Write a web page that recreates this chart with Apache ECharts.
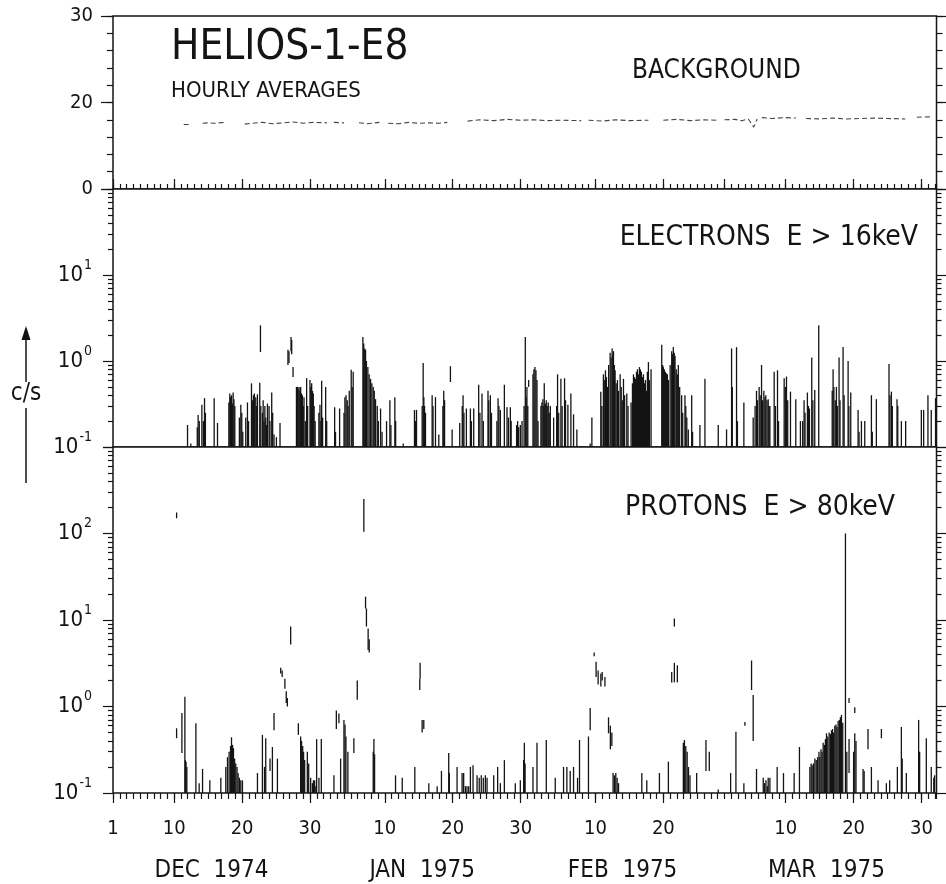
<!DOCTYPE html>
<html>
<head>
<meta charset="utf-8">
<title>HELIOS-1-E8 hourly averages</title>
<script src="https://cdn.jsdelivr.net/npm/echarts@6/dist/echarts.min.js"></script>
<style>
  html, body { margin: 0; padding: 0; background: #fff; }
  #chart { width: 946px; height: 884px; }
</style>
</head>
<body>
<div id="chart"></div>
<script>
// Day numbers: 1 = 1 Dec 1974, 32 = 1 Jan 1975, 63 = 1 Feb, 91 = 1 Mar
const dayLabelDays = [1, 10, 20, 30, 41, 51, 61, 72, 82, 100, 110, 120]
const dayLabels = ['1', '10', '20', '30', '10', '20', '30', '10', '20', '10', '20', '30']
const topLongTickDays = [1, 10, 20, 30, 41, 51, 61, 72, 82, 91, 100, 110, 120]
const monthDays = [15.5, 46.5, 76, 106]
const monthLabels = ['DEC  1974', 'JAN  1975', 'FEB  1975', 'MAR  1975']

// background panel: 0..20 and 20..30 c/s each take half of the panel
const bgTickRates = [0, 20, 30]
const logMinorSteps = [2, 3, 4, 5, 6, 7, 8, 9]

// background, c/s ('-' = gap in the record)
const bgDays = [11.4, 12.3, 12.8, 14.2, 15.0, 16.0, 17.4, 18.5, 20.4, 21.5, 23.0, 24.5, 26.0, 27.5,
  29.0, 30.5, 32.5, 32.9, 33.5, 35.0, 35.8, 37.2, 38.5, 40.2, 40.8, 41.5, 43.0, 44.5, 46.0, 47.5,
  49.0, 50.2, 51.5, 53.2, 55.0, 57.0, 59.0, 61.0, 63.0, 65.0, 67.0, 69.9, 70.4, 71.0, 73.0, 75.0,
  77.0, 79.8, 80.8, 82.0, 84.0, 86.0, 88.0, 89.9, 90.4, 91.0, 92.5, 93.5, 94.5, 95.3, 95.8, 96.2,
  96.5, 98.0, 100.0, 101.5, 102.2, 103.0, 105.0, 107.0, 109.0, 111.0, 113.0, 115.0, 117.6, 118.5,
  119.3, 121.5]
const bgRate = [14.9, 14.9, '-', 15.2, 15.3, 15.2, 15.4, '-', 15.0, 15.2, 15.4, 15.1, 15.3, 15.5,
  15.2, 15.4, 15.3, '-', 15.4, 15.3, '-', 15.3, 15.1, 15.4, '-', 15.2, 15.1, 15.4, 15.2, 15.3,
  15.2, 15.4, '-', 15.7, 16.0, 15.8, 16.1, 15.9, 16.0, 15.8, 15.9, 15.8, '-', 15.9, 15.7, 16.0,
  15.8, 15.9, '-', 15.9, 16.1, 15.8, 16.0, 15.9, '-', 16.0, 16.1, 15.8, 16.2, 14.3, 16.2, '-',
  16.5, 16.3, 16.5, 16.4, '-', 16.3, 16.2, 16.4, 16.2, 16.3, 16.4, 16.3, 16.2, '-',
  16.6, 16.7]

// electrons E > 16 keV: [day, c/s] hourly spikes rising from the 0.1 floor
const electronSpikes = [
  [11.97, 0.18], [12.46, 0.11], [13.4, 0.17], [13.53, 0.235], [13.7, 0.2], [14.08, 0.31], [14.3, 0.2],
  [14.47, 0.37], [14.6, 0.25], [15.89, 0.37], [16.38, 0.19],
  [18.05, 0.33], [18.19, 0.42], [18.3, 0.38], [18.44, 0.4], [18.56, 0.32], [18.68, 0.43], [18.8, 0.36],
  [18.93, 0.3], [19.6, 0.22], [19.81, 0.31], [19.95, 0.25], [20.1, 0.15], [20.54, 0.22], [20.79, 0.33],
  [20.95, 0.2], [21.38, 0.55], [21.5, 0.35], [21.67, 0.4], [21.8, 0.42], [22.01, 0.38], [22.15, 0.3],
  [22.26, 0.41], [22.6, 0.56], [22.75, 0.3], [22.99, 0.25], [23.1, 0.35], [23.23, 0.2], [23.35, 0.3],
  [23.48, 0.22], [23.6, 0.18], [23.73, 0.32], [23.97, 0.3], [24.1, 0.2], [24.36, 0.43], [24.5, 0.25],
  [24.7, 0.14], [25.05, 0.13], [25.58, 0.19],
  [28.0, 0.5], [28.13, 0.5], [28.25, 0.48], [28.38, 0.5], [28.5, 0.45], [28.62, 0.5], [28.75, 0.42],
  [28.87, 0.4], [29.0, 0.3], [29.11, 0.38], [29.3, 0.2], [29.5, 0.63], [29.65, 0.3], [29.99, 0.6],
  [30.1, 0.5], [30.24, 0.55], [30.36, 0.45], [30.48, 0.42], [30.6, 0.3], [30.75, 0.2], [31.3, 0.25],
  [31.46, 0.31], [31.6, 0.2], [31.71, 0.59], [31.85, 0.22], [32.3, 0.5], [32.45, 0.2],
  [33.62, 0.29], [33.75, 0.15], [34.35, 0.28], [35.0, 0.25], [35.13, 0.38], [35.3, 0.4], [35.47, 0.35],
  [35.6, 0.3], [35.77, 0.45], [36.06, 0.79], [36.2, 0.5], [36.35, 0.75],
  [37.78, 1.9], [37.9, 1.6], [38.05, 1.4], [38.17, 1.35], [38.3, 1.0], [38.51, 0.85], [38.7, 0.7],
  [38.91, 0.62], [39.1, 0.55], [39.3, 0.5], [39.45, 0.45], [39.64, 0.36], [39.89, 0.3], [40.05, 0.2],
  [40.38, 0.28], [40.6, 0.15], [41.26, 0.2], [41.75, 0.35], [41.9, 0.18], [42.48, 0.38], [42.6, 0.2],
  [43.71, 0.11], [45.37, 0.27], [45.5, 0.2], [45.67, 0.27], [46.5, 0.3], [46.65, 0.95], [46.75, 0.38],
  [46.85, 0.3], [46.99, 0.25], [47.97, 0.4], [48.1, 0.3], [48.46, 0.38], [48.95, 0.14], [49.55, 0.3],
  [49.68, 0.45], [49.8, 0.35], [50.91, 0.16], [52.03, 0.19], [52.4, 0.3], [52.52, 0.4], [52.65, 0.25],
  [53.01, 0.28], [53.6, 0.28], [53.75, 0.2], [54.09, 0.28], [54.82, 0.53], [55.0, 0.25], [55.31, 0.42],
  [55.5, 0.2], [56.19, 0.45], [56.3, 0.35], [56.54, 0.4], [56.7, 0.25], [57.5, 0.2], [57.67, 0.37],
  [57.8, 0.3], [58.01, 0.27], [58.6, 0.53], [58.99, 0.29], [59.2, 0.22], [59.48, 0.29], [59.6, 0.2],
  [60.4, 0.18], [60.55, 0.2], [60.7, 0.17], [60.95, 0.18], [61.2, 0.2], [61.5, 0.3], [61.68, 1.9],
  [61.8, 0.38], [61.92, 0.5], [62.05, 0.3], [62.81, 0.7], [62.95, 0.8], [63.1, 0.85], [63.25, 0.78],
  [63.4, 0.6], [63.55, 0.2], [63.98, 0.3], [64.12, 0.33], [64.27, 0.36], [64.4, 0.3], [64.47, 0.55],
  [64.62, 0.32], [64.77, 0.35], [64.9, 0.3], [65.06, 0.33], [65.2, 0.25], [65.36, 0.3], [65.85, 0.22],
  [66.3, 0.3], [66.43, 0.7], [66.6, 0.25], [66.92, 0.62], [67.1, 0.3], [67.46, 0.63], [67.6, 0.35],
  [67.95, 0.31], [68.39, 0.42], [68.78, 0.24], [69.27, 0.16],
  [71.23, 0.11], [71.48, 0.22], [72.79, 0.44], [72.95, 0.3], [73.18, 0.7], [73.3, 0.6], [73.48, 0.78],
  [73.62, 0.65], [73.77, 0.5], [73.95, 0.9], [74.17, 1.25], [74.3, 1.1], [74.46, 1.4], [74.56, 1.2],
  [74.66, 1.3], [74.78, 0.9], [74.9, 0.78], [75.05, 0.55], [75.24, 0.6], [75.4, 0.45], [75.64, 0.7],
  [75.8, 0.5], [75.95, 0.35], [76.13, 0.62], [76.3, 0.4], [76.62, 0.42], [76.8, 0.3], [77.25, 0.33],
  [77.45, 0.55], [77.6, 0.7], [77.75, 0.65], [77.89, 0.62], [78.05, 0.75], [78.19, 0.8], [78.33, 0.7],
  [78.48, 0.85], [78.62, 0.8], [78.77, 0.75], [78.92, 0.65], [79.07, 0.7], [79.22, 0.55], [79.36, 0.6],
  [79.5, 0.45], [79.65, 0.75], [79.8, 0.97], [79.95, 0.6], [80.19, 0.8],
  [81.76, 1.55], [81.9, 0.9], [82.0, 0.85], [82.15, 0.8], [82.29, 0.75], [82.45, 0.72], [82.59, 0.7],
  [82.75, 0.6], [83.0, 0.9], [83.23, 1.3], [83.35, 1.2], [83.47, 1.45], [83.6, 1.25], [83.72, 1.15],
  [83.9, 0.8], [84.05, 0.7], [84.2, 0.9], [84.4, 0.5], [84.69, 0.4], [84.85, 0.25], [85.18, 0.4],
  [85.3, 0.3], [85.45, 0.22], [85.67, 0.16], [86.17, 0.4], [86.3, 0.15], [87.38, 0.18], [88.12, 0.62],
  [90.08, 0.18], [91.3, 0.16],
  [92.04, 1.4], [92.15, 0.5], [92.77, 1.45], [92.9, 0.2], [93.85, 0.33], [95.22, 0.22], [95.5, 0.3],
  [95.71, 0.45], [95.85, 0.35], [96.1, 0.5], [96.25, 0.4], [96.45, 0.9], [96.6, 0.35], [96.79, 0.45],
  [96.95, 0.38], [97.08, 0.4], [97.25, 0.35], [97.43, 0.36], [97.55, 0.3], [97.68, 0.3], [98.31, 0.75],
  [98.5, 0.3], [98.8, 0.78], [98.95, 0.2], [99.78, 0.63], [99.95, 0.5], [100.12, 0.66], [100.3, 0.35],
  [100.71, 0.44], [101.49, 0.36], [102.17, 0.2], [102.5, 0.2], [102.71, 0.35], [102.85, 0.25],
  [103.2, 0.43], [103.35, 0.3], [103.5, 0.28], [103.84, 1.1], [104.0, 0.35], [104.28, 0.46],
  [104.87, 2.6], [106.85, 0.45], [106.98, 0.8], [107.1, 0.5], [107.3, 0.35], [107.47, 0.5], [107.6, 0.3],
  [107.86, 1.1], [108.0, 0.35], [108.45, 1.45], [108.6, 0.4], [109.19, 1.0], [109.3, 0.3], [109.58, 0.43],
  [110.66, 0.27], [110.8, 0.15], [111.15, 0.2], [111.64, 0.2], [112.62, 0.4], [112.75, 0.15],
  [113.35, 0.36], [115.21, 0.92], [115.35, 0.4], [115.56, 0.44], [115.7, 0.3], [116.39, 0.36],
  [116.5, 0.3], [117.03, 0.2], [117.66, 0.2], [119.97, 0.27], [120.31, 0.27], [120.94, 0.4],
  [121.43, 0.27], [122.06, 0.37]
]
// electrons: [day, low, high] pieces that float above the floor
const electronBits = [
  [22.7, 1.27, 2.6], [26.75, 0.9, 1.35], [26.9, 0.95, 1.3], [27.2, 1.3, 1.9], [27.3, 1.2, 1.75],
  [27.5, 0.65, 0.85], [50.66, 0.57, 0.87], [62.17, 0.5, 0.6]
]

// protons E > 80 keV: [day, c/s] spikes from the 0.1 floor
const protonSpikes = [
  [11.58, 1.3], [11.65, 0.24], [11.75, 0.23], [11.87, 0.2], [13.2, 0.64], [13.68, 0.13], [14.18, 0.19],
  [15.25, 0.14], [16.87, 0.15], [17.6, 0.2], [17.85, 0.26], [18.09, 0.3], [18.3, 0.35], [18.44, 0.44],
  [18.6, 0.36], [18.73, 0.33], [18.9, 0.25], [19.07, 0.22], [19.25, 0.2], [19.41, 0.17], [19.6, 0.15],
  [19.81, 0.14], [20.05, 0.14], [22.26, 0.17], [22.99, 0.47], [23.3, 0.2], [23.48, 0.43], [24.46, 0.34],
  [25.2, 0.25], [28.62, 0.45], [28.75, 0.4], [28.92, 0.35], [29.05, 0.3], [29.21, 0.24], [29.6, 0.3],
  [29.8, 0.22], [30.09, 0.15], [30.34, 0.13], [30.5, 0.14], [30.68, 0.14], [30.85, 0.12], [30.97, 0.42],
  [31.31, 0.15], [31.66, 0.42], [33.52, 0.16], [34.5, 0.25], [34.99, 0.7], [35.15, 0.62], [35.28, 0.45],
  [35.57, 0.3], [39.3, 0.3], [39.4, 0.42], [39.5, 0.28], [42.58, 0.16], [43.57, 0.15], [45.42, 0.2],
  [47.48, 0.13], [48.71, 0.12], [49.34, 0.18], [50.41, 0.29], [50.5, 0.17], [51.64, 0.2], [52.38, 0.17],
  [52.61, 0.17], [52.87, 0.12], [53.1, 0.12], [53.35, 0.12], [53.6, 0.2], [53.99, 0.21], [54.58, 0.16],
  [54.9, 0.15], [55.2, 0.16], [55.5, 0.15], [55.8, 0.16], [56.05, 0.15], [57.03, 0.16], [57.61, 0.2],
  [58.01, 0.13], [58.6, 0.24], [60.21, 0.13], [60.95, 0.14], [61.44, 0.24], [61.54, 0.38], [61.65, 0.22],
  [62.81, 0.2], [63.4, 0.38], [64.77, 0.41], [66.09, 0.15], [67.31, 0.2], [67.8, 0.2], [68.29, 0.18],
  [68.78, 0.2], [69.37, 0.15], [69.66, 0.41], [70.98, 0.45], [74.6, 0.17], [74.8, 0.16], [75.0, 0.17],
  [75.2, 0.15], [75.4, 0.13], [78.83, 0.17], [79.56, 0.14], [81.42, 0.17], [82.74, 0.23], [84.94, 0.38],
  [85.1, 0.41], [85.3, 0.35], [85.5, 0.3], [85.7, 0.2], [85.92, 0.16], [86.9, 0.17], [90.08, 0.11],
  [91.9, 0.17], [92.68, 0.51], [93.85, 0.13], [95.71, 0.19], [96.7, 0.15], [96.9, 0.13], [97.1, 0.14],
  [97.3, 0.12], [97.43, 0.15], [97.68, 0.15], [98.75, 0.2], [99.68, 0.17], [101.25, 0.17], [102.03, 0.34],
  [103.56, 0.2], [103.75, 0.22], [103.9, 0.21], [104.1, 0.22], [104.3, 0.25], [104.5, 0.24], [104.7, 0.26],
  [104.9, 0.3], [105.03, 0.26], [105.2, 0.32], [105.35, 0.3], [105.52, 0.38], [105.7, 0.36], [105.85, 0.42],
  [106.01, 0.49], [106.2, 0.45], [106.4, 0.5], [106.6, 0.48], [106.75, 0.53], [106.9, 0.55], [107.05, 0.5],
  [107.23, 0.6], [107.4, 0.62], [107.55, 0.58], [107.72, 0.68], [107.9, 0.7], [108.05, 0.75], [108.21, 0.8],
  [108.4, 0.65], [108.8, 100], [109.0, 0.3], [110.0, 0.3], [110.17, 0.49], [110.35, 0.4], [111.39, 0.19],
  [111.55, 0.18], [112.62, 0.2], [113.6, 0.14], [114.82, 0.13], [115.31, 0.14], [116.44, 0.2], [117.03, 0.58],
  [117.15, 0.25], [117.76, 0.17], [119.57, 0.7], [119.72, 0.3], [120.7, 0.43], [121.43, 0.2], [121.8, 0.15],
  [121.92, 0.16]
]
// protons: [day, low, high] floating pieces
const protonBits = [
  [10.36, 150, 175], [10.36, 0.43, 0.56], [11.14, 0.29, 0.84], [24.11, 0.18, 0.25], [24.7, 0.53, 0.84],
  [25.68, 2.4, 2.8], [25.9, 2.2, 2.6], [26.3, 1.6, 2.1], [26.5, 1.1, 1.5], [26.66, 1.0, 1.25],
  [27.15, 5.2, 8.4], [28.28, 0.47, 0.64], [33.87, 0.55, 0.9], [34.25, 0.64, 0.83], [36.45, 0.29, 0.43],
  [36.95, 1.2, 2.0], [37.92, 105, 250], [38.17, 13.6, 18.6], [38.3, 8.4, 13.6], [38.55, 4.5, 8.0],
  [38.71, 4.2, 6.0], [46.15, 1.55, 2.1], [46.2, 2.1, 3.2], [46.5, 0.5, 0.7], [46.74, 0.55, 0.7],
  [71.23, 0.53, 0.96], [71.82, 3.8, 4.2], [72.1, 2.2, 3.3], [72.4, 1.8, 2.6], [72.8, 1.7, 2.4],
  [73.0, 2.0, 2.5], [73.4, 1.7, 2.2], [73.93, 0.49, 0.75], [74.2, 0.32, 0.6], [74.42, 0.35, 0.5],
  [83.23, 1.9, 2.5], [83.62, 8.4, 10.4], [83.62, 1.9, 3.2], [84.06, 1.9, 3.0], [88.27, 0.18, 0.41],
  [88.76, 0.18, 0.3], [94.0, 0.6, 0.66], [94.98, 1.55, 3.4], [95.22, 0.4, 1.36], [109.33, 1.1, 1.25],
  [109.33, 0.17, 0.42], [110.17, 0.84, 0.98], [112.12, 0.32, 0.55], [114.09, 0.43, 0.55]
]

const FONT = '"DejaVu Sans Condensed", "Liberation Sans Narrow", "DejaVu Sans", sans-serif'
const INK = '#141414'
const DAY_MIN = 1
const DAY_MAX = 122.2
const FLOOR = 0.1

// piecewise background scale: 0..20 c/s on the lower half, 20..30 on the upper half
const bgScale = (v) => (v <= 20 ? v / 4 : 5 + (v - 20) / 2)
const bgTickPos = bgTickRates.map(bgScale)

function logTicks(minExp, maxExp) {
  const out = []
  for (let e = minExp; e < maxExp; e++) {
    logMinorSteps.forEach((k) => out.push(+(k * Math.pow(10, e)).toPrecision(3)))
  }
  return out
}
function decades(minExp, maxExp) {
  const out = []
  for (let e = minExp; e <= maxExp; e++) out.push(+Math.pow(10, e).toPrecision(3))
  return out
}

function powerLabel(value) {
  const exp = Math.round(Math.log10(value))
  return '{b|10}{s|' + exp + '}'
}

const chart = echarts.init(document.getElementById('chart'), null, { renderer: 'canvas' })

const tickStyle = { color: INK, width: 1.2 }
const grids = [
  { left: 113, right: 9.5, top: 16, height: 173 },
  { left: 113, right: 9.5, top: 189, height: 258 },
  { left: 113, right: 9.5, top: 447, height: 346 },
].map((g) => ({ ...g, show: true, borderColor: INK, borderWidth: 1.5, backgroundColor: '#fff', containLabel: false, outerBoundsMode: 'none' }))

function dayAxis(gridIndex, position, extra) {
  return {
    gridIndex,
    type: 'value',
    position,
    min: DAY_MIN,
    max: DAY_MAX,
    axisLine: { show: false },
    splitLine: { show: false },
    axisLabel: { show: false },
    axisTick: { show: false },
    ...extra,
  }
}

const xAxis = [
  dayAxis(0, 'top', { interval: 1, axisTick: { show: true, length: 5, lineStyle: tickStyle } }),
  dayAxis(0, 'top', { axisTick: { show: true, length: 10, customValues: topLongTickDays, lineStyle: tickStyle } }),
  dayAxis(1, 'bottom', {}),
  dayAxis(2, 'bottom', {
    interval: 1,
    axisTick: { show: true, length: 6, lineStyle: tickStyle },
    axisLabel: {
      show: true,
      customValues: dayLabelDays,
      formatter: (v) => dayLabels[dayLabelDays.indexOf(v)],
      margin: 26,
      fontSize: 20,
      fontFamily: FONT,
      color: INK,
    },
  }),
  dayAxis(2, 'bottom', { axisTick: { show: true, length: 10, customValues: dayLabelDays, lineStyle: tickStyle } }),
  dayAxis(2, 'bottom', {
    axisLabel: {
      show: true,
      customValues: monthDays,
      formatter: (v) => monthLabels[monthDays.indexOf(v)],
      margin: 66,
      fontSize: 24,
      fontFamily: FONT,
      color: INK,
    },
  }),
]

const powerRich = {
  b: { fontSize: 22, fontFamily: FONT, color: INK },
  s: { fontSize: 14, fontFamily: FONT, color: INK, padding: [0, 0, 20, 1] },
}

function bgAxis(position, major) {
  return {
    gridIndex: 0,
    type: 'value',
    position,
    min: 0,
    max: 10,
    interval: 1,
    axisLine: { show: false },
    splitLine: { show: false },
    axisTick: major
      ? { show: true, length: 12, customValues: bgTickPos, lineStyle: tickStyle }
      : { show: true, length: 6, lineStyle: tickStyle },
    axisLabel: major && position === 'left'
      ? {
          show: true,
          customValues: bgTickPos,
          formatter: (v) => String(bgTickRates[bgTickPos.indexOf(v)]),
          margin: 20,
          fontSize: 20,
          fontFamily: FONT,
          color: INK,
        }
      : { show: false },
  }
}

function logAxis(gridIndex, position, maxExp, major, labelValues) {
  return {
    gridIndex,
    type: 'log',
    logBase: 10,
    position,
    min: FLOOR,
    max: Math.pow(10, maxExp),
    axisLine: { show: false },
    splitLine: { show: false },
    minorTick: { show: false },
    axisTick: major
      ? { show: true, length: 10, customValues: decades(-1, maxExp), lineStyle: tickStyle }
      : { show: true, length: 5, customValues: logTicks(-1, maxExp), lineStyle: tickStyle },
    axisLabel: labelValues
      ? {
          show: true,
          customValues: labelValues,
          formatter: powerLabel,
          margin: 21,
          rich: powerRich,
        }
      : { show: false },
  }
}

const yAxis = [
  bgAxis('left', true), bgAxis('left', false), bgAxis('right', true), bgAxis('right', false),
  logAxis(1, 'left', 2, true, [0.1, 1, 10]), logAxis(1, 'left', 2, false),
  logAxis(1, 'right', 2, true), logAxis(1, 'right', 2, false),
  logAxis(2, 'left', 3, true, [0.1, 1, 10, 100]), logAxis(2, 'left', 3, false),
  logAxis(2, 'right', 3, true), logAxis(2, 'right', 3, false),
]

function renderSpike(params, api) {
  const day = api.value(0)
  const low = api.coord([day, api.value(1)])
  const high = api.coord([day, api.value(2)])
  return {
    type: 'line',
    shape: { x1: low[0], y1: low[1], x2: high[0], y2: high[1] },
    style: { stroke: INK, lineWidth: 1.3 },
  }
}

const electronData = electronSpikes.map(([d, v]) => [d, FLOOR, v]).concat(electronBits)
const protonData = protonSpikes.map(([d, v]) => [d, FLOOR, v]).concat(protonBits)
const bgData = bgDays.map((d, i) => [d, bgRate[i] === '-' ? '-' : bgScale(bgRate[i])])

const labelText = (x, y, text, size, align) => ({
  type: 'text',
  x,
  y,
  style: { text, font: `${size}px ${FONT}`, fill: INK, align: align || 'left', verticalAlign: 'middle' },
})

chart.setOption({
  animation: false,
  backgroundColor: '#fff',
  textStyle: { fontFamily: FONT },
  grid: grids,
  xAxis,
  yAxis,
  series: [
    {
      name: 'BACKGROUND',
      type: 'line',
      xAxisIndex: 0,
      yAxisIndex: 0,
      data: bgData,
      showSymbol: false,
      symbol: 'none',
      connectNulls: false,
      lineStyle: { color: '#444', width: 1.1, type: [5, 3] },
    },
    {
      name: 'ELECTRONS E > 16keV',
      type: 'custom',
      xAxisIndex: 2,
      yAxisIndex: 4,
      renderItem: renderSpike,
      encode: { x: 0, y: [1, 2] },
      data: electronData,
      clip: true,
    },
    {
      name: 'PROTONS E > 80keV',
      type: 'custom',
      xAxisIndex: 3,
      yAxisIndex: 8,
      renderItem: renderSpike,
      encode: { x: 0, y: [1, 2] },
      data: protonData,
      clip: true,
    },
  ],
  graphic: [
    labelText(171, 48, 'HELIOS-1-E8', 42),
    labelText(171, 91, 'HOURLY AVERAGES', 22),
    labelText(632, 71, 'BACKGROUND', 26),
    labelText(918, 238, 'ELECTRONS  E > 16keV', 28, 'right'),
    labelText(895, 508, 'PROTONS  E > 80keV', 28, 'right'),
    labelText(26, 394, 'c/s', 24, 'center'),
    { type: 'line', shape: { x1: 26, y1: 382, x2: 26, y2: 336 }, style: { stroke: INK, lineWidth: 1.5 } },
    { type: 'polygon', shape: { points: [[26, 326], [21.5, 340], [30.5, 340]] }, style: { fill: INK } },
    { type: 'line', shape: { x1: 26, y1: 408, x2: 26, y2: 483 }, style: { stroke: INK, lineWidth: 1.5 } },
  ],
})
</script>
</body>
</html>
